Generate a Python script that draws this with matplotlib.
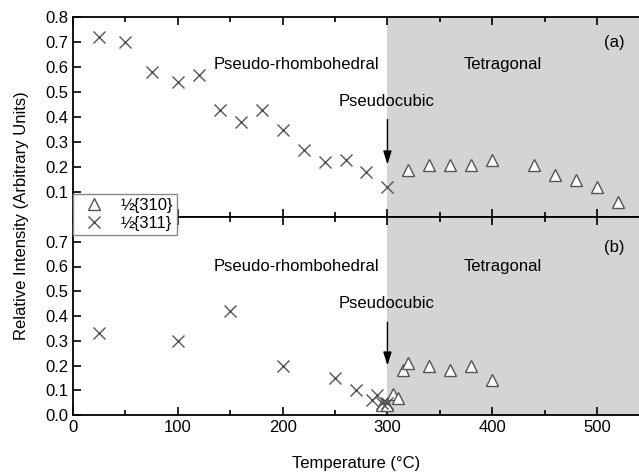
import numpy as np
import matplotlib.pyplot as plt
from matplotlib.lines import Line2D

plt.rcParams['font.family'] = ['Liberation Sans', 'DejaVu Sans']
plt.rcParams['font.size'] = 12

# panel (a)
a_t311 = [25, 50, 75, 100, 120, 140, 160, 180, 200, 220, 240, 260, 280, 300]
a_i311 = [0.72, 0.70, 0.58, 0.54, 0.57, 0.43, 0.38, 0.43, 0.35, 0.27, 0.22, 0.23, 0.18, 0.12]
a_t310 = [320, 340, 360, 380, 400, 440, 460, 480, 500, 520]
a_i310 = [0.19, 0.21, 0.21, 0.21, 0.23, 0.21, 0.17, 0.15, 0.12, 0.06]

# panel (b)
b_t311 = [25, 100, 150, 200, 250, 270, 285, 290, 295, 300]
b_i311 = [0.33, 0.30, 0.42, 0.20, 0.15, 0.10, 0.06, 0.08, 0.05, 0.05]
b_t310 = [295, 300, 305, 310, 315, 320, 340, 360, 380, 400]
b_i310 = [0.04, 0.04, 0.085, 0.07, 0.18, 0.21, 0.20, 0.18, 0.20, 0.14]

labels = ['½{310}', '½{311}']
gray = '#555555'

W, H = 639, 475
fig = plt.figure(figsize=(W / 100, H / 100), dpi=100)
left = 73 / W
ax1 = fig.add_axes([left, 1 - 217 / H, 1 - left, (217 - 17) / H])
ax2 = fig.add_axes([left, 1 - 415 / H, 1 - left, (415 - 217) / H])


def style(ax, yticks):
    ax.set_xlim(0, 540)
    ax.set_ylim(0, 0.8)
    ax.axvspan(300, 540, color='#d4d4d4', zorder=0, lw=0)
    ax.set_xticks([0, 100, 200, 300, 400, 500])
    ax.set_xticks([50, 150, 250, 350, 450], minor=True)
    ax.set_yticks(yticks)
    ax.tick_params(which='both', direction='in', top=True, bottom=True,
                   left=True, right=False, width=1.2, labelsize=12)
    ax.tick_params(which='major', length=6)
    ax.tick_params(which='minor', length=3.5)
    ax.spines['right'].set_visible(False)
    for s in ['left', 'top', 'bottom']:
        ax.spines[s].set_linewidth(1.3)


style(ax1, [0.1, 0.2, 0.3, 0.4, 0.5, 0.6, 0.7, 0.8])
style(ax2, [0.0, 0.1, 0.2, 0.3, 0.4, 0.5, 0.6, 0.7])
ax1.set_yticklabels(['0.1', '0.2', '0.3', '0.4', '0.5', '0.6', '0.7', '0.8'])
ax2.set_yticklabels(['0.0', '0.1', '0.2', '0.3', '0.4', '0.5', '0.6', '0.7'])
ax1.tick_params(labelbottom=False)

tri = dict(marker='^', ls='none', ms=8, mfc='white', mec=gray, mew=1.0, zorder=3)
crs = dict(marker='x', ls='none', ms=8, color=gray, mew=1.0, zorder=3)

ax1.plot(a_t310, a_i310, **tri)
ax1.plot(a_t311, a_i311, **crs)
ax2.plot(b_t310, b_i310, **tri)
ax2.plot(b_t311, b_i311, **crs)

for ax, tag, yr, yt, yc, ya in [(ax1, '(a)', 0.61, 0.70, 0.46, (0.39, 0.21)),
                                (ax2, '(b)', 0.60, 0.675, 0.45, (0.375, 0.20))]:
    ax.text(213, yr, 'Pseudo-rhombohedral', ha='center', va='center', fontsize=12)
    ax.text(410, yr, 'Tetragonal', ha='center', va='center', fontsize=12)
    ax.text(516, yt, tag, ha='center', va='center', fontsize=12)
    ax.text(299, yc, 'Pseudocubic', ha='center', va='center', fontsize=12)
    ax.annotate('', xy=(300, ya[1]), xytext=(300, ya[0]),
                arrowprops=dict(arrowstyle='-|>,head_length=0.8,head_width=0.25',
                                color='black', lw=1.0, mutation_scale=10,
                                shrinkA=0, shrinkB=0))

ax2.set_xlabel('Temperature (°C)', fontsize=12, labelpad=15)
fig.text(22 / W, 1 - 216 / H, 'Relative Intensity (Arbitrary Units)',
         rotation=90, ha='center', va='center', fontsize=12)

handles = [Line2D([], [], **tri), Line2D([], [], **crs)]
leg = fig.legend(handles, labels, loc='upper left',
                 bbox_to_anchor=(left, 1 - 194 / H), frameon=True,
                 fancybox=False, edgecolor='#888888', framealpha=1,
                 fontsize=12, borderpad=0.25, labelspacing=0.15,
                 handletextpad=0.6, handlelength=2.0, borderaxespad=0)
leg.get_frame().set_linewidth(1.0)

fig.savefig('out.png', dpi=100)
